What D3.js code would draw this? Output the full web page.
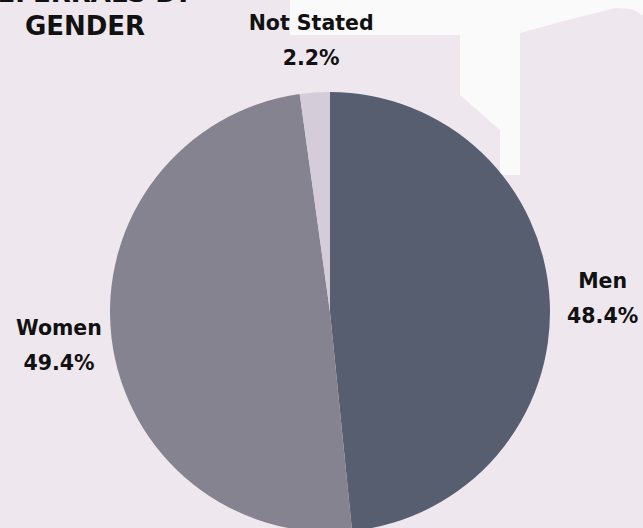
<!DOCTYPE html>
<html>
<head>
<meta charset="utf-8">
<script src="https://cdn.jsdelivr.net/npm/d3@7"></script>
<style>
  body { margin: 0; background: #EEE8EE; }
  svg { display: block; }
  text { font-family: "DejaVu Sans", Lato, sans-serif; font-weight: 700; fill: #111; }
</style>
</head>
<body>
<div id="chart"></div>
<script>
var categories = ["Men", "Women", "Not Stated"]
var values = [48.4, 49.4, 2.2]
var colors = ["#575E70", "#85838F", "#D4CDD9"]

var width = 643, height = 528
var cx = 330, cy = 312, radius = 220, labelRadius = 273

var svg = d3.select("#chart").append("svg")
  .attr("width", width)
  .attr("height", height)

svg.append("rect")
  .attr("width", width).attr("height", height)
  .attr("fill", "#EEE8EE")

// decorative light shape behind the chart (top right)
svg.append("path")
  .attr("fill", "#FAFAFB")
  .attr("d", "M290,0 L643,0 L643,15 L632,9 L615,8 L560,22 L520,33 L520,175 L500,175 L500,130 L460,95 L460,35 L290,35 Z")

// title, partly cut off at the top
var title = svg.append("text")
  .attr("text-anchor", "middle")
  .style("font-size", "26px")
title.append("tspan").attr("x", 85).attr("y", 2).text("REFERRALS BY")
title.append("tspan").attr("x", 85).attr("y", 35).text("GENDER")

var data = categories.map(function (c, i) { return { name: c, value: values[i], color: colors[i] } })

var pie = d3.pie().sort(null).value(function (d) { return d.value })
var arc = d3.arc().innerRadius(0).outerRadius(radius)

var g = svg.append("g").attr("transform", "translate(" + cx + "," + cy + ")")

var arcs = pie(data)

g.selectAll("path.slice").data(arcs)
  .enter().append("path")
  .attr("class", "slice")
  .attr("d", arc)
  .attr("fill", function (d) { return d.data.color })

var labels = g.selectAll("text.label").data(arcs)
  .enter().append("text")
  .attr("class", "label")
  .attr("text-anchor", "middle")
  .style("font-size", "20.5px")
  .attr("transform", function (d) {
    var a = (d.startAngle + d.endAngle) / 2
    return "translate(" + (Math.sin(a) * labelRadius) + "," + (-Math.cos(a) * labelRadius) + ")"
  })

labels.append("tspan").attr("x", 0).attr("y", -10).text(function (d) { return d.data.name })
labels.append("tspan").attr("x", 0).attr("y", 25).text(function (d) { return d.data.value.toFixed(1) + "%" })
</script>
</body>
</html>
